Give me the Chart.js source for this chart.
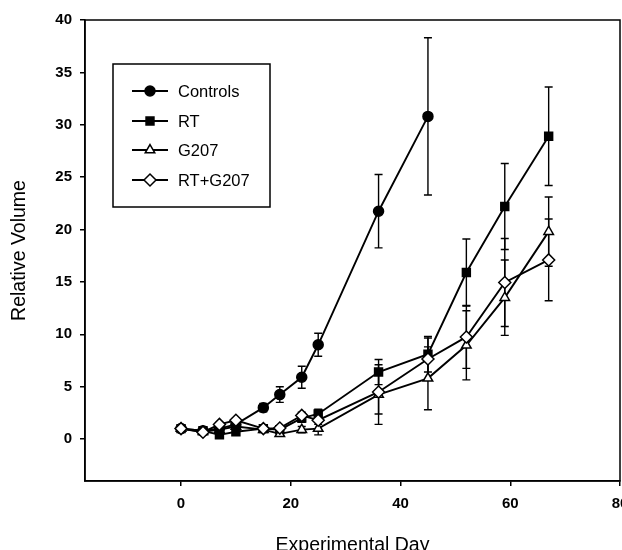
<!DOCTYPE html>
<html lang="en">
<head>
  <meta charset="UTF-8">
  <title>Relative Volume vs Experimental Day</title>
  <script src="https://cdn.jsdelivr.net/npm/chart.js"></script>
  <style>
    html, body { margin: 0; padding: 0; background: #fff; overflow: hidden; }
    #wrap { width: 622px; height: 550px; }
  </style>
</head>
<body>
  <div id="wrap"><canvas id="myChart" width="622" height="550"></canvas></div>
  <script>
    // Days of measurement
    const days = [0, 4, 7, 10, 15, 18, 22, 25, 36, 45, 52, 59, 67];

    // Series values (relative volume) and error bar half-lengths
    const controls = [1.0, 0.8, 1.0, 1.4, 3.0, 4.25, 5.9, 9.0, 21.75, 30.8];
    const controlsErr = [0.1, 0.1, 0.2, 0.3, 0.4, 0.75, 1.05, 1.1, 3.5, 7.5];

    const rt = [1.0, 0.8, 0.4, 0.7, 1.0, 0.9, 2.0, 2.4, 6.4, 8.1, 15.9, 22.2, 28.9];
    const rtErr = [0.1, 0.1, 0.2, 0.2, 0.2, 0.3, 0.4, 0.45, 1.2, 1.7, 3.2, 4.1, 4.7];

    const g207 = [1.0, 0.7, 0.9, 1.2, 0.9, 0.5, 0.9, 1.0, 4.25, 5.8, 8.95, 13.5, 19.8];
    const g207Err = [0.1, 0.1, 0.2, 0.2, 0.2, 0.2, 0.3, 0.6, 2.85, 3.0, 3.3, 3.6, 3.3];

    const rtG207 = [1.0, 0.66, 1.4, 1.8, 1.0, 1.05, 2.26, 1.8, 4.5, 7.65, 9.75, 14.95, 17.1];
    const rtG207Err = [0.1, 0.1, 0.2, 0.2, 0.2, 0.2, 0.3, 0.4, 2.1, 2.0, 3.0, 4.2, 3.9];

    const seriesLabels = ['Controls', 'RT', 'G207', 'RT+G207'];
    const xTicks = [0, 20, 40, 60, 80];
    const yTicks = [0, 5, 10, 15, 20, 25, 30, 35, 40];

    const FONT = "'Liberation Sans', Arial, sans-serif";

    const toPoints = (vals, errs) => vals.map((v, i) => ({ x: days[i], y: v, err: errs[i] }));

    // error bars, drawn under the markers
    const errorBars = {
      id: 'errorBars',
      beforeDatasetsDraw(chart) {
        const { ctx, scales: { x, y } } = chart;
        ctx.save();
        ctx.strokeStyle = '#000';
        ctx.lineWidth = 1.4;
        chart.data.datasets.forEach(ds => {
          ds.data.forEach(p => {
            const px = x.getPixelForValue(p.x);
            const top = y.getPixelForValue(p.y + p.err);
            const bot = y.getPixelForValue(p.y - p.err);
            ctx.beginPath();
            ctx.moveTo(px, top); ctx.lineTo(px, bot);
            ctx.moveTo(px - 4, top); ctx.lineTo(px + 4, top);
            ctx.moveTo(px - 4, bot); ctx.lineTo(px + 4, bot);
            ctx.stroke();
          });
        });
        ctx.restore();
      }
    };

    // frame round the plot + legend box
    const frameAndLegend = {
      id: 'frameAndLegend',
      afterDraw(chart) {
        const { ctx, chartArea: a } = chart;
        ctx.save();
        ctx.strokeStyle = '#000';
        ctx.lineWidth = 1.5;
        ctx.strokeRect(a.left, a.top, a.right - a.left, a.bottom - a.top);

        // legend
        ctx.strokeRect(113, 64, 157, 143);
        const rowY = [91, 121, 150, 180];
        chart.data.datasets.forEach((ds, i) => {
          const yy = rowY[i];
          ctx.lineWidth = ds.borderWidth;
          ctx.strokeStyle = '#000';
          ctx.beginPath();
          ctx.moveTo(132, yy); ctx.lineTo(168, yy);
          ctx.stroke();
          ctx.fillStyle = ds.pointBackgroundColor;
          ctx.strokeStyle = '#000';
          ctx.lineWidth = ds.pointBorderWidth;
          Chart.helpers.drawPoint(ctx, {
            pointStyle: ds.pointStyle, radius: ds.pointRadius,
            borderWidth: ds.pointBorderWidth, rotation: 0
          }, 150, yy);
          ctx.fillStyle = '#000';
          ctx.font = '16.5px ' + FONT;
          ctx.textAlign = 'left';
          ctx.textBaseline = 'middle';
          ctx.fillText(ds.label, 178, yy + 1);
        });
        ctx.restore();
      }
    };

    // keep the plot box fixed; the last x label is allowed to run off the edge
    const noPad = s => { s.paddingLeft = 0; s.paddingRight = 0; s.paddingTop = 0; s.paddingBottom = 0;
      s.getPadding = () => ({ left: 0, top: 0, right: 0, bottom: 0 }); };

    const baseDs = {
      borderColor: '#000',
      borderWidth: 1.9,
      pointBorderColor: '#000',
      pointBorderWidth: 1.5,
      tension: 0,
      fill: false
    };

    const ctx = document.getElementById('myChart').getContext('2d');
    const chart = new Chart(ctx, {
      type: 'line',
      data: {
        datasets: [
          Object.assign({}, baseDs, { label: seriesLabels[0], data: toPoints(controls, controlsErr),
            pointStyle: 'circle', pointRadius: 5, pointBackgroundColor: '#000', order: 1 }),
          Object.assign({}, baseDs, { label: seriesLabels[1], data: toPoints(rt, rtErr),
            pointStyle: 'rect', pointRadius: 5.6, pointBackgroundColor: '#000', order: 3 }),
          Object.assign({}, baseDs, { label: seriesLabels[2], data: toPoints(g207, g207Err),
            pointStyle: 'triangle', pointRadius: 5.5, pointBackgroundColor: '#fff', order: 2 }),
          Object.assign({}, baseDs, { label: seriesLabels[3], data: toPoints(rtG207, rtG207Err),
            pointStyle: 'rectRot', pointRadius: 6, pointBackgroundColor: '#fff', order: 0 })
        ]
      },
      options: {
        responsive: false,
        animation: false,
        layout: { autoPadding: false, padding: { top: 20, right: 2, bottom: 0, left: 0 } },
        plugins: {
          legend: { display: false },
          tooltip: { enabled: false }
        },
        scales: {
          x: {
            type: 'linear',
            min: -17.5,
            max: 80,
            afterBuildTicks: s => { s.ticks = xTicks.map(v => ({ value: v })); },
            afterFit: s => { s.height = 69; noPad(s); },
            grid: { display: true, drawOnChartArea: false, drawTicks: true, tickLength: 5, color: '#000', lineWidth: 1.5 },
            border: { display: true, color: '#000', width: 1.5 },
            ticks: { color: '#000', padding: 9, maxRotation: 0, font: { family: FONT, size: 15, weight: 'bold' } },
            title: {
              display: true, text: 'Experimental Day', color: '#000',
              font: { family: FONT, size: 19.5 }, padding: { top: 4, bottom: -7 }
            }
          },
          y: {
            min: -4,
            max: 40,
            afterBuildTicks: s => { s.ticks = yTicks.map(v => ({ value: v })); },
            afterFit: s => { s.width = 85; noPad(s); },
            grid: { display: true, drawOnChartArea: false, drawTicks: true, tickLength: 5, color: '#000', lineWidth: 1.5 },
            border: { display: true, color: '#000', width: 1.5 },
            ticks: { color: '#000', padding: 8, font: { family: FONT, size: 15, weight: 'bold' } },
            title: {
              display: true, text: 'Relative Volume', color: '#000',
              font: { family: FONT, size: 19.5 }, padding: { top: 8, bottom: 0 }
            }
          }
        }
      },
      plugins: [errorBars, frameAndLegend]
    });
  </script>
</body>
</html>
